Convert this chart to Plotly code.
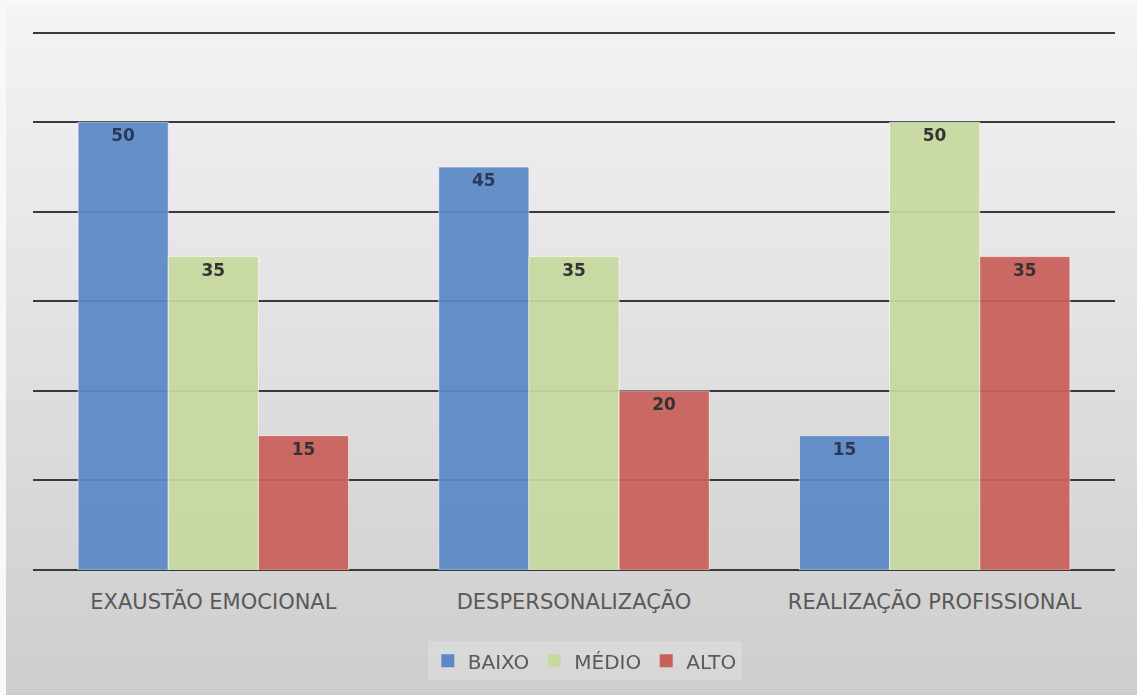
import plotly.graph_objects as go

categories = ["EXAUSTÃO EMOCIONAL", "DESPERSONALIZAÇÃO", "REALIZAÇÃO PROFISSIONAL"]
series_names = ["BAIXO", "MÉDIO", "ALTO"]
baixo = [50, 45, 15]
medio = [35, 35, 50]
alto = [15, 20, 35]
colors = ["#5b88c5", "#c6d9a0", "#c95f5b"]
label_colors = ["#1d2b4c", "#262626", "#262626"]

W, H = 1137, 695
ML, MR, MT, MB = 33, 22, 30, 125
pw = W - ML - MR
ph = H - MT - MB
YMAX = 60.3

fig = go.Figure()
for name, vals, col, lc in zip(series_names, [baixo, medio, alto], colors, label_colors):
    fig.add_trace(go.Bar(
        x=categories, y=vals, name=name,
        marker=dict(color=col, line=dict(color="rgba(255,255,255,0.6)", width=1)),
        opacity=0.93,
        text=[str(v) for v in vals], textposition="inside", insidetextanchor="end",
        textangle=0,
        textfont=dict(family="DejaVu Sans", size=17, color=lc, weight="bold"),
        hoverinfo="skip", showlegend=False,
    ))
# legend entries with larger square symbols
for name, col in zip(series_names, colors):
    fig.add_trace(go.Scatter(
        x=[None], y=[None], mode="markers", name=name,
        marker=dict(symbol="square", size=13, color=col),
        showlegend=True, hoverinfo="skip",
    ))

# vertical gradient background built from stacked strips
shapes = []
n = 70
top_px, bot_px = 6, H
c_top, c_bot = 244, 205
for i in range(n):
    p0 = top_px + (bot_px - top_px) * i / n
    p1 = top_px + (bot_px - top_px) * (i + 1) / n + 0.6
    c = round(c_top + (c_bot - c_top) * (i + 0.5) / n)
    shapes.append(dict(
        type="rect", xref="paper", yref="paper", layer="below",
        x0=(6 - ML) / pw, x1=(W - ML) / pw,
        y0=(H - MB - p1) / ph, y1=(H - MB - p0) / ph,
        fillcolor=f"rgb({c},{c},{c})", line=dict(width=0),
    ))

fig.update_layout(
    width=W, height=H,
    margin=dict(l=ML, r=MR, t=MT, b=MB),
    paper_bgcolor="#f8f8f8",
    plot_bgcolor="rgba(0,0,0,0)",
    barmode="group", bargap=0.25, bargroupgap=0,
    shapes=shapes,
    showlegend=True,
    legend=dict(orientation="h", x=0.51, xanchor="center", y=-0.168, yanchor="middle",
                font=dict(family="DejaVu Sans", size=20, color="#595959"),
                bgcolor="rgba(255,255,255,0.2)", itemwidth=30,
                traceorder="normal"),
    font=dict(family="DejaVu Sans"),
)
fig.update_xaxes(showgrid=False, showline=False, ticks="", ticklabelstandoff=17,
                 tickfont=dict(family="DejaVu Sans", size=21, color="#595959"))
fig.update_yaxes(range=[0, YMAX], tickvals=[0, 10, 20, 30, 40, 50, 60],
                 showgrid=True, gridcolor="#3a3a3a", gridwidth=2,
                 showticklabels=False, zeroline=True, zerolinecolor="#3a3a3a", zerolinewidth=2,
                 showline=False, ticks="")

fig.write_html("out.html")
